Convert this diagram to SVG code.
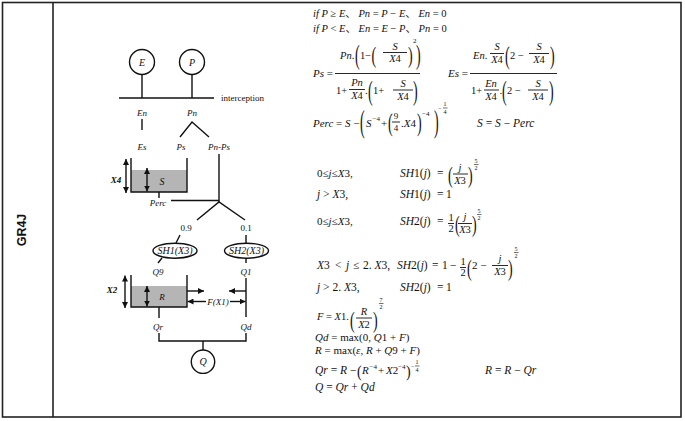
<svg xmlns="http://www.w3.org/2000/svg" width="685" height="421" viewBox="0 0 685 421">
<style>
.t{font-family:"Liberation Serif","Noto Sans CJK SC",serif;font-size:11px;fill:#111;white-space:pre}
.b{font-size:11.5px}
.i{font-style:italic}
.mid{text-anchor:middle}
.sm{font-size:7px}
.xs{font-size:6px}
.fr{font-size:10.5px}
.bp{font-family:"Liberation Serif",serif;font-size:14px;fill:#111}
.bar{stroke:#111;stroke-width:0.9}
.ln{stroke:#111;stroke-width:1.4;fill:none}
.d{font-family:"Liberation Serif",serif;font-size:9px;font-style:italic;fill:#111;text-anchor:middle}
.dr{font-family:"Liberation Serif",serif;font-size:9px;fill:#111}
.node{fill:#fff;stroke:#111;stroke-width:1.4}
.water{fill:#b5b5b5}
.ar{stroke:#111;stroke-width:1.4;fill:none;marker-end:url(#ah)}
.ar2{stroke:#111;stroke-width:1.4;fill:none;marker-end:url(#ah);marker-start:url(#ah)}
</style>
<defs>
<marker id="ah" viewBox="0 0 6 6" markerUnits="userSpaceOnUse" markerWidth="6" markerHeight="6" refX="6" refY="3" orient="auto-start-reverse">
<path d="M0,0 L6,3 L0,6 z" fill="#111"/>
</marker>
</defs>
<rect x="0" y="0" width="685" height="421" fill="#fff"/>
<g id="frame">
<rect x="2.5" y="2.5" width="678.5" height="414.5" fill="none" stroke="#222" stroke-width="1.6"/>
<line x1="53" y1="2.5" x2="53" y2="417" stroke="#222" stroke-width="1.6"/>
<text x="0" y="0" transform="translate(26,230) rotate(-90)" text-anchor="middle" style="font-family:'Liberation Sans',Arial,sans-serif;font-size:12.5px;font-weight:bold;fill:#111">GR4J</text>
</g>

<g id="connectors">
<line class="ln" x1="142" y1="74.5" x2="142" y2="98"/>
<line class="ln" x1="192" y1="74.5" x2="192" y2="98"/>
<line class="ln" x1="142" y1="119" x2="142" y2="130"/>
<polyline class="ln" points="180,137 192,122 209,137"/>
<line class="ln" x1="219" y1="154" x2="219" y2="202"/>
<line class="ln" x1="159" y1="192" x2="159" y2="198"/>
<line class="ln" x1="171" y1="200.5" x2="219" y2="200.5"/>
<polyline class="ln" points="197,220 219,202 245,220"/>
<line class="ln" x1="180" y1="235" x2="176" y2="243"/>
<line class="ln" x1="246" y1="235" x2="246" y2="243"/>
<line class="ln" x1="162" y1="258" x2="158" y2="263"/>
<line class="ln" x1="246" y1="258" x2="246" y2="263"/>
<line class="ln" x1="246" y1="278" x2="246" y2="317"/>
<line class="ar" x1="187" y1="291" x2="204" y2="291"/>
<line class="ar" x1="246" y1="291" x2="229" y2="291"/>
<line class="ar" x1="206" y1="301.5" x2="187.5" y2="301.5"/>
<line class="ar" x1="230" y1="301.5" x2="245.5" y2="301.5"/>
<line class="ln" x1="159" y1="307" x2="159" y2="318"/>
<polyline class="ln" points="159,333 159,341 246,341 246,333"/>
<line class="ln" x1="203" y1="341" x2="203" y2="350"/>
</g>

<g id="node-E">
<circle class="node" cx="142" cy="62" r="12.5"/>
<text class="d" x="142" y="65.5" style="font-size:10px">E</text>
</g>
<g id="node-P">
<circle class="node" cx="192" cy="62" r="12.5"/>
<text class="d" x="192" y="65.5" style="font-size:10px">P</text>
</g>
<g id="node-interception">
<line class="ln" x1="119" y1="98" x2="214" y2="98"/>
<text class="dr" x="221" y="101">interception</text>
<text class="d" x="142" y="116">En</text>
<text class="d" x="192" y="116">Pn</text>
<text class="d" x="142" y="150">Es</text>
<text class="d" x="181" y="150">Ps</text>
<text class="d" x="219" y="150">Pn-Ps</text>
</g>
<g id="node-S">
<rect class="water" x="131" y="170" width="56" height="22"/>
<polyline class="ln" points="131,158 131,192 187,192 187,158"/>
<line class="ar2" x1="126" y1="159" x2="126" y2="193"/>
<line class="ar2" x1="147" y1="168" x2="147" y2="191.5"/>
<text class="d" x="116" y="183" style="font-weight:bold">X4</text>
<text class="d" x="162" y="185" style="font-size:10px">S</text>
<text class="d" x="158" y="205.5">Perc</text>
</g>
<g id="node-split">
<text class="dr" x="186" y="231" text-anchor="middle">0.9</text>
<text class="dr" x="246" y="231" text-anchor="middle">0.1</text>
</g>
<g id="node-SH1">
<ellipse class="node" cx="175" cy="250.7" rx="22" ry="7.5"/>
<text class="d" x="175" y="254" style="font-size:10px">SH1(X3)</text>
<text class="d" x="158" y="275">Q9</text>
</g>
<g id="node-SH2">
<ellipse class="node" cx="246.5" cy="250.7" rx="22" ry="7.5"/>
<text class="d" x="246.5" y="254" style="font-size:10px">SH2(X3)</text>
<text class="d" x="246" y="275">Q1</text>
</g>
<g id="node-R">
<rect class="water" x="131" y="286" width="56" height="21"/>
<polyline class="ln" points="131,275 131,307 187,307 187,275"/>
<line class="ar2" x1="125" y1="275.5" x2="125" y2="308"/>
<line class="ar2" x1="147" y1="286" x2="147" y2="306.5"/>
<text class="d" x="112" y="293" style="font-weight:bold">X2</text>
<text class="d" x="162" y="300">R</text>
<text class="d" x="218" y="304.5">F(X1)</text>
<text class="d" x="158" y="330">Qr</text>
<text class="d" x="246" y="330">Qd</text>
</g>
<g id="node-Q">
<circle class="node" cx="203" cy="361.7" r="11.7"/>
<text class="d" x="203" y="365" style="font-size:10px">Q</text>
</g>

<g id="equations" class="t">
<text x="313" y="17" style="font-size:10.5px"><tspan class="i">if P</tspan> ≥ <tspan class="i">E</tspan>、 <tspan class="i">Pn</tspan> = <tspan class="i">P</tspan> − <tspan class="i">E</tspan>、 <tspan class="i">En</tspan> = 0</text>
<text x="313" y="32" style="font-size:10.5px"><tspan class="i">if P</tspan> &lt; <tspan class="i">E</tspan>、 <tspan class="i">En</tspan> = <tspan class="i">E</tspan> − <tspan class="i">P</tspan>、 <tspan class="i">Pn</tspan> = 0</text>

<text x="313" y="77"><tspan class="i">Ps</tspan> =</text>
<line class="bar" x1="335" y1="73.5" x2="420" y2="73.5"/>
<text x="340" y="59" class="fr"><tspan class="i">Pn</tspan>.</text>
<text class="bp" transform="translate(355,64) scale(1,2)">(</text>
<text x="360" y="59" class="fr">1−</text>
<text class="bp" transform="translate(371.5,63) scale(1,1.7)">(</text>
<text class="i mid fr" x="395" y="49.5">S</text>
<line class="bar" x1="383" y1="52.5" x2="407" y2="52.5"/>
<text class="mid fr" x="395" y="62"><tspan class="i">X</tspan>4</text>
<text class="bp" transform="translate(408,63) scale(1,1.7)">)</text>
<text class="sm" x="413" y="43">2</text>
<text class="bp" transform="translate(416,64) scale(1,2)">)</text>
<text x="336" y="94" class="fr">1+</text>
<text class="i mid fr" x="357" y="86">Pn</text>
<line class="bar" x1="349" y1="89.5" x2="365" y2="89.5"/>
<text class="mid fr" x="357" y="99"><tspan class="i">X</tspan>4</text>
<text x="365" y="94">.</text>
<text class="bp" transform="translate(368,100) scale(1,2)">(</text>
<text x="373" y="94" class="fr">1+</text>
<text class="i mid fr" x="403" y="86.5">S</text>
<line class="bar" x1="393" y1="90" x2="413" y2="90"/>
<text class="mid fr" x="403" y="100"><tspan class="i">X</tspan>4</text>
<text class="bp" transform="translate(413,100) scale(1,2)">)</text>

<text x="448" y="77"><tspan class="i">Es</tspan> =</text>
<line class="bar" x1="470" y1="73.5" x2="557" y2="73.5"/>
<text x="473" y="59" class="fr"><tspan class="i">En</tspan>.</text>
<text class="i mid fr" x="497" y="50">S</text>
<line class="bar" x1="490" y1="53.5" x2="504" y2="53.5"/>
<text class="mid fr" x="497" y="63"><tspan class="i">X</tspan>4</text>
<text class="bp" transform="translate(505,64) scale(1,1.8)">(</text>
<text x="510" y="59" class="fr">2 − </text>
<text class="i mid fr" x="539" y="50">S</text>
<line class="bar" x1="529" y1="53.5" x2="549" y2="53.5"/>
<text class="mid fr" x="539" y="63"><tspan class="i">X</tspan>4</text>
<text class="bp" transform="translate(550,64) scale(1,1.8)">)</text>
<text x="471" y="94" class="fr">1+</text>
<text class="i mid fr" x="491" y="86.5">En</text>
<line class="bar" x1="484" y1="90" x2="499" y2="90"/>
<text class="mid fr" x="491" y="100"><tspan class="i">X</tspan>4</text>
<text x="499.5" y="94">.</text>
<text class="bp" transform="translate(502,100) scale(1,2)">(</text>
<text x="507" y="94" class="fr">2 − </text>
<text class="i mid fr" x="538" y="86.5">S</text>
<line class="bar" x1="528" y1="90" x2="548" y2="90"/>
<text class="mid fr" x="538" y="100"><tspan class="i">X</tspan>4</text>
<text class="bp" transform="translate(549,100) scale(1,2)">)</text>

<text x="313" y="127"><tspan class="i">Perc</tspan> = <tspan class="i">S</tspan> −</text>
<text class="bp" transform="translate(360,132) scale(1,2.2)">(</text>
<text class="i" x="366" y="127">S</text>
<text class="sm" x="372.5" y="121">−4</text>
<text x="381" y="127">+</text>
<text class="bp" transform="translate(388,131) scale(1,1.8)">(</text>
<text class="mid" x="396" y="119" style="font-size:9px">9</text>
<line class="bar" x1="392" y1="122" x2="400" y2="122"/>
<text class="mid" x="396" y="130.5" style="font-size:9px">4</text>
<text x="401" y="127">.<tspan class="i">X</tspan>4</text>
<text class="bp" transform="translate(417,131) scale(1,1.8)">)</text>
<text class="sm" x="422" y="116">−4</text>
<text class="bp" transform="translate(434,132) scale(1,2.2)">)</text>
<text class="xs" x="438" y="110">−</text>
<text class="xs mid" x="445" y="106">1</text>
<line class="bar" x1="443" y1="108" x2="447.5" y2="108" style="stroke-width:0.6"/>
<text class="xs mid" x="445" y="113.5">4</text>
<text x="477" y="127" class="b"><tspan class="i">S</tspan>  =  <tspan class="i">S</tspan>  −  <tspan class="i">Perc</tspan></text>

<text x="317" y="177">0≤<tspan class="i">j</tspan>≤<tspan class="i">X</tspan>3,</text>
<text y="177" class="b"><tspan x="400"><tspan class="i">SH</tspan>1(<tspan class="i">j</tspan>)</tspan><tspan x="437">=</tspan></text>
<text class="bp" transform="translate(448,183) scale(1,1.6)">(</text>
<text class="i mid fr" x="460" y="171">j</text>
<line class="bar" x1="453" y1="174" x2="468" y2="174"/>
<text class="mid fr" x="460" y="184"><tspan class="i">X</tspan>3</text>
<text class="bp" transform="translate(468,183) scale(1,1.6)">)</text>
<text class="xs mid" x="476" y="163">5</text>
<line class="bar" x1="474" y1="164.5" x2="478.5" y2="164.5" style="stroke-width:0.6"/>
<text class="xs mid" x="476" y="170">2</text>

<text x="317" y="198" class="b"><tspan class="i">j</tspan> &gt; <tspan class="i">X</tspan>3,</text>
<text y="198" class="b"><tspan x="400"><tspan class="i">SH</tspan>1(<tspan class="i">j</tspan>)</tspan><tspan x="437">=</tspan><tspan x="446">1</tspan></text>

<text x="317" y="225">0≤<tspan class="i">j</tspan>≤<tspan class="i">X</tspan>3,</text>
<text y="225" class="b"><tspan x="400"><tspan class="i">SH</tspan>2(<tspan class="i">j</tspan>)</tspan><tspan x="437">=</tspan></text>
<text class="mid fr" x="451" y="221">1</text>
<line class="bar" x1="448" y1="223.5" x2="454" y2="223.5"/>
<text class="mid fr" x="451" y="232">2</text>
<text class="bp" transform="translate(455,232) scale(1,1.6)">(</text>
<text class="i mid fr" x="465" y="220">j</text>
<line class="bar" x1="458" y1="223.5" x2="472" y2="223.5"/>
<text class="mid fr" x="465" y="233"><tspan class="i">X</tspan>3</text>
<text class="bp" transform="translate(472,232) scale(1,1.6)">)</text>
<text class="xs mid" x="479" y="213">5</text>
<line class="bar" x1="477" y1="214.5" x2="481.5" y2="214.5" style="stroke-width:0.6"/>
<text class="xs mid" x="479" y="220">2</text>

<text y="269" class="b"><tspan x="317"><tspan class="i">X</tspan>3</tspan><tspan x="335">&lt;</tspan><tspan x="346" class="i">j</tspan><tspan x="353">≤</tspan><tspan x="363">2. <tspan class="i">X</tspan>3,</tspan></text>
<text y="269" class="b"><tspan x="397"><tspan class="i">SH</tspan>2(<tspan class="i">j</tspan>)</tspan><tspan x="432">=</tspan><tspan x="442">1</tspan><tspan x="450">−</tspan></text>
<text class="mid fr" x="463" y="265">1</text>
<line class="bar" x1="460" y1="267.5" x2="466" y2="267.5"/>
<text class="mid fr" x="463" y="276">2</text>
<text class="bp" transform="translate(467,276) scale(1,1.7)">(</text>
<text x="472" y="269">2 − </text>
<text class="i mid fr" x="500" y="262">j</text>
<line class="bar" x1="492" y1="265.5" x2="508" y2="265.5"/>
<text class="mid fr" x="500" y="275"><tspan class="i">X</tspan>3</text>
<text class="bp" transform="translate(508,276) scale(1,1.7)">)</text>
<text class="xs mid" x="516" y="251">5</text>
<line class="bar" x1="514" y1="252.5" x2="518.5" y2="252.5" style="stroke-width:0.6"/>
<text class="xs mid" x="516" y="258">2</text>

<text x="317" y="291" class="b"><tspan class="i">j</tspan> &gt; 2. <tspan class="i">X</tspan>3,</text>
<text y="291" class="b"><tspan x="400"><tspan class="i">SH</tspan>2(<tspan class="i">j</tspan>)</tspan><tspan x="437">=</tspan><tspan x="446">1</tspan></text>

<text x="317" y="320" class="fr"><tspan class="i">F</tspan> = <tspan class="i">X</tspan>1.</text>
<text class="bp" transform="translate(350,328) scale(1,1.6)">(</text>
<text class="i mid fr" x="364" y="315">R</text>
<line class="bar" x1="356" y1="318" x2="372" y2="318"/>
<text class="mid fr" x="364" y="328"><tspan class="i">X</tspan>2</text>
<text class="bp" transform="translate(373,328) scale(1,1.6)">)</text>
<text class="xs mid" x="381" y="302">7</text>
<line class="bar" x1="379" y1="303.5" x2="383.5" y2="303.5" style="stroke-width:0.6"/>
<text class="xs mid" x="381" y="309">2</text>

<text x="315" y="341"><tspan class="i">Qd</tspan> = max(0, <tspan class="i">Q</tspan>1 + <tspan class="i">F</tspan>)</text>
<text x="315" y="353.5"><tspan class="i">R</tspan> = max(<tspan class="i">ε</tspan>, <tspan class="i">R</tspan> + <tspan class="i">Q</tspan>9 + <tspan class="i">F</tspan>)</text>

<text x="315" y="374" class="b"><tspan class="i">Qr</tspan> = <tspan class="i">R</tspan> −</text>
<text class="bp" transform="translate(357,376.5) scale(1,1.2)">(</text>
<text class="i" x="362" y="374">R</text>
<text class="sm" x="369.5" y="369">−4</text>
<text x="378" y="374">+</text>
<text x="386" y="374"><tspan class="i">X</tspan>2</text>
<text class="sm" x="398" y="369">−4</text>
<text class="bp" transform="translate(406,376.5) scale(1,1.2)">)</text>
<text class="xs" x="411" y="368">−</text>
<text class="xs mid" x="417" y="364">1</text>
<line class="bar" x1="415" y1="366" x2="419.5" y2="366" style="stroke-width:0.6"/>
<text class="xs mid" x="417" y="371.5">4</text>
<text x="485" y="374" class="b"><tspan class="i">R</tspan> = <tspan class="i">R</tspan> − <tspan class="i">Qr</tspan></text>
<text x="315" y="391" class="b"><tspan class="i">Q</tspan> = <tspan class="i">Qr</tspan> + <tspan class="i">Qd</tspan></text>
</g>
</svg>
